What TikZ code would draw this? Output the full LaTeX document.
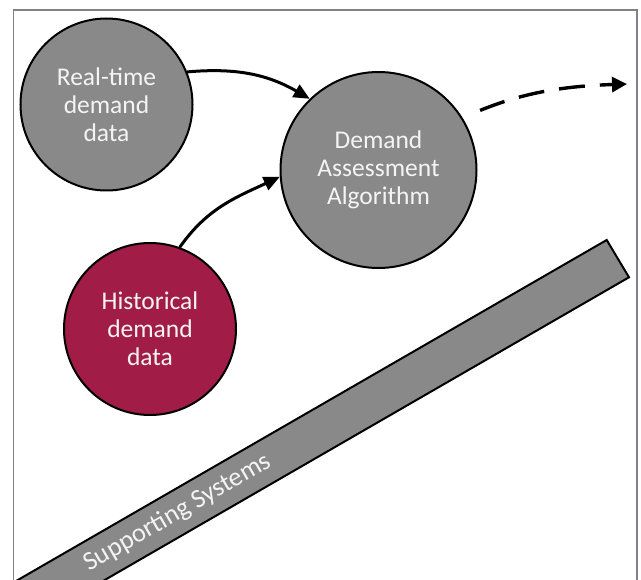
\documentclass[tikz,border=0pt]{standalone}
\usepackage{fontspec}
\setmainfont{Carlito}
\usetikzlibrary{arrows.meta}
\definecolor{fillgray}{HTML}{898989}
\definecolor{crimson}{HTML}{A21C48}
\definecolor{framegray}{RGB}{128,128,136}
\definecolor{txtwhite}{HTML}{F4F4F4}
\tikzset{
  bubble/.style={circle, draw=black, line width=2pt, fill=fillgray, inner sep=0pt,
    text=txtwhite, align=center, font=\fontsize{25.5}{28}\selectfont},
  flowarrow/.style={line width=3pt, -{Triangle[length=16pt,width=14pt]}},
  outarrow/.style={line width=3.4pt, dash pattern=on 26pt off 15pt, -{Triangle[length=15pt,width=15pt]}},
}
\begin{document}
\begin{tikzpicture}[x=1pt,y=-1pt]
\useasboundingbox (0,0) rectangle (641,580);
\fill[white] (0,0) rectangle (641,580);
\begin{scope}
\clip (0,0) rectangle (641,580);
% frame
\draw[framegray, line width=1.6pt] (13.3,600) -- (13.3,10) -- (636.7,10) -- (636.7,600);
% supporting systems bar
\draw[black, line width=2pt, fill=fillgray, line join=miter]
  (606.7,240) -- (629,277.3) -- (-63.8,677.3) -- (-86.1,640) -- cycle;
\node[rotate=30, text=txtwhite, font=\fontsize{26.5}{30}\selectfont] (sup) at (177.5,513) {Supporting Systems};
\end{scope}
% nodes
\node[bubble, minimum size=172pt] (c1) at (106.5,104.5) {Real-time\\demand\\data};
\node[bubble, minimum size=196pt] (c2) at (378.5,170) {Demand\\Assessment\\Algorithm};
\node[bubble, fill=crimson, minimum size=172pt] (c3) at (150,329) {Historical\\demand\\data};
\coordinate (dend) at (627,84);
% arrows
\draw[flowarrow] (c1.22) to[out=5,in=150] (c2.134);
\draw[flowarrow] (c3.70) to[out=55,in=205] (c2.184);
\draw[outarrow, shorten <=19pt] (c2.32) to[out=22,in=182] (dend);
\end{tikzpicture}
\end{document}
